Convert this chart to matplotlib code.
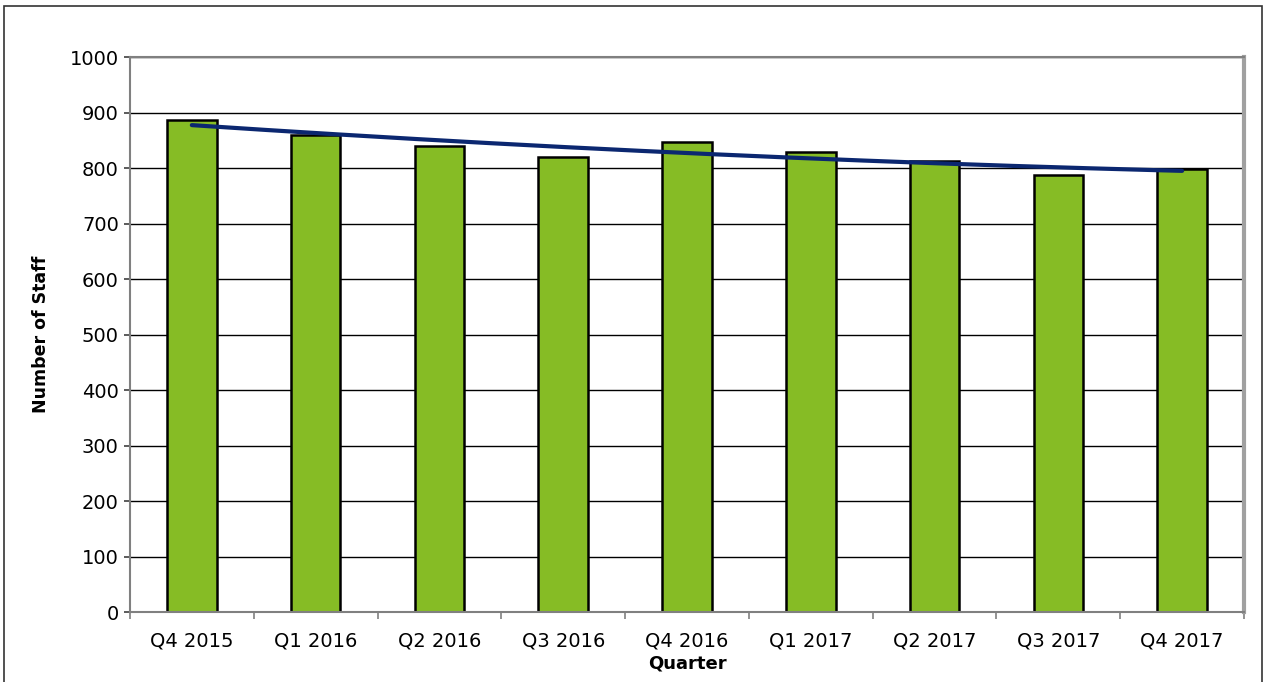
import numpy as np
import matplotlib.pyplot as plt
from matplotlib.patches import Rectangle

quarters = ["Q4 2015", "Q1 2016", "Q2 2016", "Q3 2016", "Q4 2016",
            "Q1 2017", "Q2 2017", "Q3 2017", "Q4 2017"]
staff = [886, 860, 840, 819, 847, 828, 812, 787, 798]
y_ticks = [0, 100, 200, 300, 400, 500, 600, 700, 800, 900, 1000]

fig = plt.figure(figsize=(12.64, 6.82), dpi=100)
ax = fig.add_axes([0.1028, 0.1026, 0.8814, 0.8138])

x = np.arange(len(quarters))

# bars
ax.bar(x, staff, width=0.4, color="#86BC25", edgecolor="black",
       linewidth=1.8, zorder=2)

# polynomial (order 2) trendline, like excel
coef = np.polyfit(x, staff, 2)
xs = np.linspace(x[0], x[-1], 200)
ax.plot(xs, np.polyval(coef, xs), color="#0B2770", linewidth=3,
        solid_capstyle="round", zorder=3)

ax.set_xlim(-0.5, len(quarters) - 0.5)
ax.set_ylim(0, 1000)
ax.set_yticks(y_ticks)
ax.set_xticks(x)
ax.set_xticklabels(quarters)
ax.set_xticks(np.arange(-0.5, len(quarters)), minor=True)

# gridlines
ax.yaxis.grid(True, color="black", linewidth=1, zorder=0)
ax.set_axisbelow(True)

for side in ["left", "bottom", "top"]:
    ax.spines[side].set_color("#808080")
    ax.spines[side].set_linewidth(1.5)
ax.spines["right"].set_color("#A0A0A0")
ax.spines["right"].set_linewidth(3)

ax.tick_params(axis="y", length=4, width=1.2, color="#404040",
               labelsize=14, pad=4)
ax.tick_params(axis="x", which="major", length=0, labelsize=14, pad=14)
ax.tick_params(axis="x", which="minor", length=5, width=1.2, color="#808080")

ax.set_ylabel("Number of Staff", fontsize=12.5, fontweight="bold", labelpad=14)
ax.set_xlabel("Quarter", fontsize=13, fontweight="bold", labelpad=3)

# outer border of the chart area
fig.patches.append(Rectangle((0.0035, -0.01), 0.995, 1.001, transform=fig.transFigure,
                             fill=False, edgecolor="#333333", linewidth=1.2))

fig.savefig("out.png", dpi=100)
